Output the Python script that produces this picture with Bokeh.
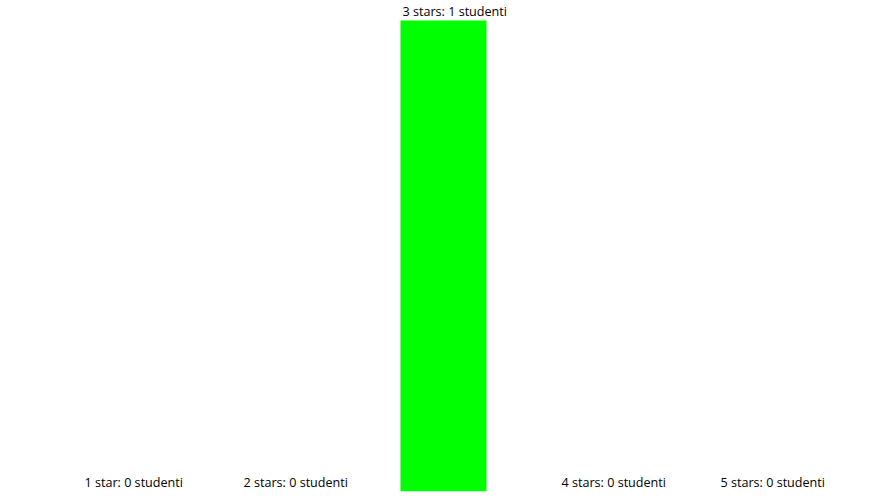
from bokeh.plotting import figure
from bokeh.models import ColumnDataSource, Range1d
from bokeh.core.properties import value
from bokeh.embed import file_html
from bokeh.resources import INLINE

categories = ["1 star", "2 stars", "3 stars", "4 stars", "5 stars"]
counts = [0, 0, 1, 0, 0]
unit = "studenti"

bar_w = 0.541
xs = list(range(len(categories)))
labels = [f"{c}: {n} {unit}" for c, n in zip(categories, counts)]
src = ColumnDataSource(dict(
    x=xs, top=counts, left=[x - bar_w / 2 for x in xs], label=labels))

p = figure(width=887, height=501, output_backend="svg", toolbar_location=None,
           x_range=Range1d(-0.786, -0.786 + 887 / 159),
           y_range=Range1d(0, 491 / 471),
           min_border_left=0, min_border_right=0, min_border_top=0,
           min_border_bottom=10, outline_line_color=None)
p.axis.visible = False
p.grid.visible = False
p.background_fill_color = "white"
p.border_fill_color = "white"

p.vbar(x="x", top="top", bottom=0, width=bar_w, source=src,
       fill_color="#00ff00", line_color=None)
p.text(x="left", y="top", text="label", source=src, x_offset=2, y_offset=-1,
       text_align="left", text_baseline="bottom",
       text_font=value("Open Sans"), text_font_size="12.6px", text_color="#000000")

open("out.html", "w").write(file_html(p, INLINE))
